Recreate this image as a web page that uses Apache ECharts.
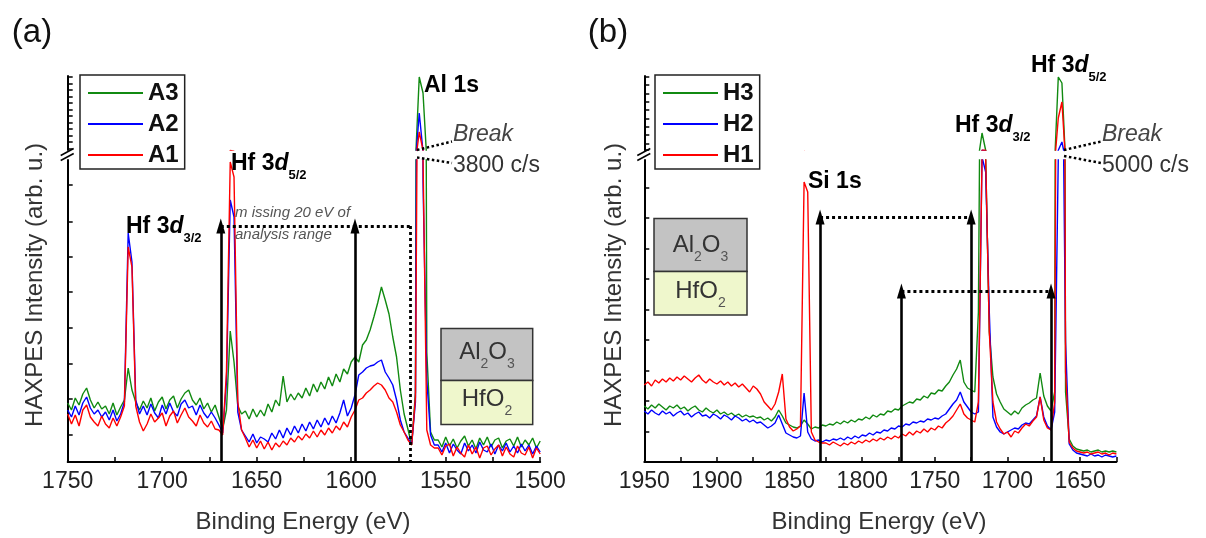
<!DOCTYPE html>
<html><head><meta charset="utf-8">
<script src="https://cdn.jsdelivr.net/npm/echarts@6/dist/echarts.min.js"></script>
<style>html,body{margin:0;padding:0;background:#fff;}#c{width:1206px;height:538px;}</style>
</head><body><div id="c"></div>
<script>
// ---------- DATA ----------
// Panel (a): binding energy grid 1750 -> 1500 eV, step 2 eV (arb. u.)
const A_START = 1750, A_STEP = 2;
const A3 = [590,520,640,570,680,740,620,540,600,530, 560,480,590,470,550, 620,940,720,600,
  520,610,540,640,510,600,650,530,620,660,540,630,690,720,620,570,640,530,590,500,570,
  450,330,520,1310,1000,560,480, 510,430,530,450,520,460,580,500, 620,560,860,600,680,620,
  690,640,740,660,780,700,800,730,850,760, 880,800,930,880,1000,
  1050,1000,1170,1220,1320,1450,1590,1750,1620,1480,1250,1050,720,480,330,170,
  700,17700,14500,1100,300,220,
  220,150,250,160,230,140,210,260,160,220,130,240,170,250,150,220,240,140,210,230,160,250,150,220,170,240,140,210];
const A2 = [520,450,560,470,590,650,540,480,520,450, 500,420,520,410,480, 600,2290,2000,620,
  480,560,470,580,490,440,570,480,590,500,460,580,620,540,560,470,570,490,440,500,440,
  370,290,800,2620,2450,500,320, 260,200,280,190,250,230,200,290, 230,320,240,340,270,360,
  290,380,310,400,330,420,350,440,370,460, 390,490,620,460,540,
  670,870,900,940,960,970,1000,1020,900,840,770,620,420,300,240,180,
  600,10500,2800,820,270,170,
  170,100,190,90,180,120,80,190,110,170,90,200,120,100,180,80,170,110,190,100,160,90,180,110,170,80,160,100];
const A1 = [480,380,470,360,520,570,450,400,360,460, 380,340,440,360,450, 560,2150,1950,560,
  400,310,380,480,400,440,490,360,460,510,390,470,540,450,410,360,470,390,350,410,330,
  320,270,900,3000,2850,600,320, 240,150,220,140,210,130,200,120, 190,150,210,170,240,200,
  260,220,280,240,310,250,320,270,340,290, 360,320,400,350,450,
  520,620,640,690,720,760,790,770,720,640,600,500,370,300,220,170,
  650,6700,3050,320,170,140,
  140,70,160,180,60,150,90,50,170,80,150,40,140,160,70,130,170,60,150,80,50,160,90,70,150,40,140,80];

// Panel (b): binding energy grid 1950 -> 1625 eV, step 2.5 eV (arb. u.)
const B_START = 1950, B_STEP = 2.5;
const H3 = [560,530,570,540,580,550,520,560,540,570,530,550,510,540,560,520,500,540,510,490,520,480,500,470,490,460,480,450,
  470,450,460,440,450,420,440,410,450,520,460,390,370,350,340,360,420,380,330,350,340,370,
  360,380,370,400,380,410,390,420,400,430,420,450,430,470,450,480,470,510,500,530,520,560,580,600,590,630,620,660,640,690,680,720,710,760,800,870,930,1020,800,740,720,700,1500,
  6500,3050,1300,850,
  680,600,530,500,470,510,480,540,570,590,620,640,890,660,560,510,700,
  17700,16500,700,
  230,160,130,120,110,120,100,110,120,100,110,100,110,100];
const H2 = [510,480,520,490,470,510,480,500,460,490,510,470,490,450,480,500,460,470,440,480,460,430,470,450,420,460,440,410,
  430,400,420,390,400,370,340,360,390,470,380,290,270,250,240,260,690,300,230,210,220,200,
  220,210,230,220,240,220,250,230,260,240,270,260,290,270,300,290,320,310,340,330,360,350,380,370,400,390,410,400,430,420,440,430,460,480,530,580,620,700,600,550,500,480,500,
  3050,2900,1500,450,
  350,300,280,300,320,340,330,370,390,380,420,460,650,450,360,320,500,
  3050,4700,1200,
  180,120,90,80,70,60,80,60,70,50,70,60,50,60];
const H1 = [770,800,760,820,790,830,800,840,810,850,820,860,830,800,840,870,820,790,830,800,780,810,770,800,760,790,750,780,
  740,700,760,730,680,600,560,520,580,700,880,430,350,310,330,360,2800,2700,300,220,200,190,
  190,170,200,180,160,190,170,200,180,210,190,220,200,230,210,240,220,250,230,260,240,280,260,300,270,310,290,330,300,340,320,360,340,390,420,460,520,580,480,440,420,400,600,
  3050,3050,1300,600,
  400,330,280,300,250,310,290,340,380,360,410,450,650,420,340,320,600,
  9500,12700,900,
  200,140,110,100,90,100,80,90,100,80,90,70,90,80];

// annotation arrows (eV) and levels (arb. u.)
const arrowsA = [1669, 1598];
const bracketA = [1669, 1569];
const levelA = 2360;
const arrowsB1 = [1829, 1725], levelB1 = 2450;
const arrowsB2 = [1773, 1670], levelB2 = 1710;

// axis ticks (unlabelled y ticks, arb. u.)
const yTicksLowA = [270, 630, 985, 1340, 1700, 2050, 2405, 2770];
const yTicksLowB = [0, 305, 610, 915, 1220, 1525, 1830, 2135, 2440, 2745];
const yTicksUpA = [3400, 4700, 6000, 7300, 8600, 9900, 11200, 12500, 13800, 15100, 16400, 17700];
const yTicksUpB = [3100, 4440, 6100, 7760, 9440, 11100, 12760, 14440, 16100, 17760];

// ---------- CHART ----------
const FONT = '"Liberation Sans", Arial, Helvetica, sans-serif';
const GREEN = '#118a11', BLUE = '#0000ff', RED = '#ff0000';
const LOW_MAX = 3020, UP_MIN = 3100, UP_MAX = 17900;

function pairs(start, step, vals) { return vals.map((v, i) => [start - step * i, v]); }

const grids = [
  {left: 67.7, top: 160, width: 472.5, height: 302},
  {left: 67.7, top: 76, width: 472.5, height: 74},
  {left: 644.3, top: 160, width: 472.1, height: 302},
  {left: 644.3, top: 76, width: 472.1, height: 74}
].map(g => Object.assign({containLabel: false, outerBoundsMode: 'none'}, g));

function xAxisLow(grid, min, max) {
  return {gridIndex: grid, type: 'value', min: min, max: max, inverse: true, interval: 25,
    axisLine: {show: true, onZero: false, lineStyle: {color: '#000', width: 2}},
    axisTick: {show: true, inside: true, length: 5, lineStyle: {color: '#000', width: 1.5}},
    axisLabel: {show: true, interval: 0, margin: 8, fontSize: 23, fontFamily: FONT, color: '#222',
      formatter: v => (v % 50 === 0 ? String(v) : '')},
    splitLine: {show: false}};
}
function xAxisUp(grid, min, max) {
  return {gridIndex: grid, type: 'value', min: min, max: max, inverse: true, show: false, splitLine: {show: false}};
}
function yAxis(grid, min, max, ticks) {
  return {gridIndex: grid, type: 'value', min: min, max: max,
    axisLine: {show: true, onZero: false, lineStyle: {color: '#000', width: 2}},
    axisTick: {show: true, inside: true, length: 5, customValues: ticks, lineStyle: {color: '#000', width: 1.5}},
    axisLabel: {show: false}, splitLine: {show: false}};
}

const series = [];
function addSpectrum(name, vals, start, step, color, lowIdx, upIdx) {
  const d = pairs(start, step, vals);
  [lowIdx, upIdx].forEach(ix => {
    series.push({type: 'line', name: name, xAxisIndex: ix, yAxisIndex: ix, data: d,
      symbol: 'none', showSymbol: false, clip: true, silent: true, animation: false,
      lineStyle: {color: color, width: 1.4}, itemStyle: {color: color}});
  });
}
addSpectrum('A3', A3, A_START, A_STEP, GREEN, 0, 1);
addSpectrum('A2', A2, A_START, A_STEP, BLUE, 0, 1);
addSpectrum('A1', A1, A_START, A_STEP, RED, 0, 1);
addSpectrum('H3', H3, B_START, B_STEP, GREEN, 2, 3);
addSpectrum('H2', H2, B_START, B_STEP, BLUE, 2, 3);
addSpectrum('H1', H1, B_START, B_STEP, RED, 2, 3);

const solid = {color: '#000', width: 2.6, type: 'solid'};
const dotted = {color: '#000', width: 2.8, type: [3, 3]};
function arrow(E, level) {
  return [{coord: [E, 0], symbol: 'none', lineStyle: solid}, {coord: [E, level], symbol: 'triangle', symbolSize: [9, 15]}];
}
function dline(x1, y1, x2, y2) {
  return [{coord: [x1, y1], symbol: 'none', lineStyle: dotted}, {coord: [x2, y2], symbol: 'none'}];
}
function markSeries(ix, data) {
  series.push({type: 'line', name: 'marks' + ix, xAxisIndex: ix, yAxisIndex: ix, data: [], z: 5, silent: true,
    markLine: {silent: true, animation: false, symbol: ['none', 'none'], label: {show: false},
      emphasis: {disabled: true}, lineStyle: solid, data: data}});
}
markSeries(0, [
  arrow(arrowsA[0], levelA), arrow(arrowsA[1], levelA),
  dline(bracketA[0], levelA, bracketA[1], levelA), dline(bracketA[1], levelA, bracketA[1], 0)
]);
markSeries(2, [
  arrow(arrowsB1[0], levelB1), arrow(arrowsB1[1], levelB1), dline(arrowsB1[0], levelB1, arrowsB1[1], levelB1),
  arrow(arrowsB2[0], levelB2), arrow(arrowsB2[1], levelB2), dline(arrowsB2[0], levelB2, arrowsB2[1], levelB2)
]);

function legend(left, names) {
  return {data: names.map(n => ({name: n, icon: 'rect'})), orient: 'vertical', left: left, top: 75,
    itemWidth: 55, itemHeight: 2, itemGap: 7,
    padding: [6, 6, 2, 8], borderColor: '#222', borderWidth: 1.5, backgroundColor: '#fff', selectedMode: false,
    textStyle: {fontSize: 24, fontWeight: 'bold', color: '#111', fontFamily: FONT, lineHeight: 24}};
}

// ---------- GRAPHIC ANNOTATIONS ----------
const G = [];
function text(x, y, s, font, fill, align, extra) {
  G.push(Object.assign({type: 'text', x: x, y: y, silent: true, z: 20,
    style: {text: s, font: font, fill: fill || '#000', textAlign: align || 'left', textVerticalAlign: 'middle'}}, extra || {}));
}
function richText(x, y, s, rich, align) {
  G.push({type: 'text', x: x, y: y, silent: true, z: 20,
    style: {text: s, rich: rich, textAlign: align || 'left', textVerticalAlign: 'middle'}});
}
function poly(points, style) {
  G.push({type: 'polyline', silent: true, z: 20, shape: {points: points}, style: Object.assign({fill: null, stroke: '#000', lineWidth: 2.5}, style)});
}
function rect(x, y, w, h, fill) {
  G.push({type: 'rect', silent: true, z: 15, shape: {x: x, y: y, width: w, height: h}, style: {fill: fill, stroke: '#333', lineWidth: 1.5}});
}
const hfRich = {
  n: {font: 'bold 23px ' + FONT, fill: '#000', lineHeight: 36, verticalAlign: 'middle'},
  i: {font: 'italic bold 23px ' + FONT, fill: '#000', lineHeight: 36, verticalAlign: 'middle'},
  s: {font: 'bold 13px ' + FONT, fill: '#000', lineHeight: 13, verticalAlign: 'bottom'}
};
const matRich = {
  m: {font: '24px ' + FONT, fill: '#333', lineHeight: 38, verticalAlign: 'middle'},
  s: {font: '14px ' + FONT, fill: '#555', lineHeight: 14, verticalAlign: 'bottom'}
};

// panel letters
text(32, 33, '(a)', '33px ' + FONT, '#111', 'center');
text(608, 33, '(b)', '33px ' + FONT, '#111', 'center');
// axis titles
text(303, 522, 'Binding Energy (eV)', '24px ' + FONT, '#333', 'center');
text(879, 522, 'Binding Energy (eV)', '24px ' + FONT, '#333', 'center');
text(35, 285, 'HAXPES Intensity (arb. u.)', '24px ' + FONT, '#333', 'center', {rotation: Math.PI / 2});
text(614, 285, 'HAXPES Intensity (arb. u.)', '24px ' + FONT, '#333', 'center', {rotation: Math.PI / 2});

// panel (a) peak labels
richText(126, 227, '{n|Hf 3}{i|d}{s|3/2}', hfRich);
richText(231, 164, '{n|Hf 3}{i|d}{s|5/2}', hfRich);
text(424, 86, 'Al 1s', 'bold 23px ' + FONT, '#000');
text(235, 213, 'm issing 20 eV of', 'italic 15px ' + FONT, '#555');
text(235, 235, 'analysis range', 'italic 15px ' + FONT, '#555');
text(453, 135, 'Break', 'italic 23px ' + FONT, '#444');
text(453, 166, '3800 c/s', '23px ' + FONT, '#333');
poly([[417, 150], [452, 141.5]], {lineDash: [2.5, 2.5]});
poly([[417, 157.5], [452, 163]], {lineDash: [2.5, 2.5]});
rect(441, 328.5, 91.7, 52, '#c3c3c3');
rect(441, 380.5, 91.7, 44, '#eff7cc');
richText(487, 352, '{m|Al}{s|2}{m|O}{s|3}', matRich, 'center');
richText(487, 399, '{m|HfO}{s|2}', matRich, 'center');

// panel (b) peak labels
text(808, 182, 'Si 1s', 'bold 23px ' + FONT, '#000');
richText(955, 126, '{n|Hf 3}{i|d}{s|3/2}', hfRich);
richText(1031, 66, '{n|Hf 3}{i|d}{s|5/2}', hfRich);
text(1102, 135, 'Break', 'italic 23px ' + FONT, '#444');
text(1102, 166, '5000 c/s', '23px ' + FONT, '#333');
poly([[1064, 150], [1101, 141.5]], {lineDash: [2.5, 2.5]});
poly([[1064, 156], [1101, 163]], {lineDash: [2.5, 2.5]});
rect(654, 218.5, 93, 53, '#c3c3c3');
rect(654, 271.5, 93, 43.5, '#eff7cc');
richText(700.5, 245, '{m|Al}{s|2}{m|O}{s|3}', matRich, 'center');
richText(700.5, 291, '{m|HfO}{s|2}', matRich, 'center');

// axis break marks
[67.7, 644.3].forEach(ax => {
  poly([[ax - 7, 155.5], [ax + 6, 148.5]], {lineWidth: 1.5});
  poly([[ax - 7, 160.5], [ax + 6, 153.5]], {lineWidth: 1.5});
});

const chart = echarts.init(document.getElementById('c'), null, {renderer: 'canvas', width: 1206, height: 538});
chart.setOption({
  animation: false,
  backgroundColor: '#fff',
  grid: grids,
  xAxis: [xAxisLow(0, 1500, 1750), xAxisUp(1, 1500, 1750), xAxisLow(2, 1625, 1950), xAxisUp(3, 1625, 1950)],
  yAxis: [yAxis(0, 0, LOW_MAX, yTicksLowA), yAxis(1, UP_MIN, UP_MAX, yTicksUpA),
          yAxis(2, 0, LOW_MAX, yTicksLowB), yAxis(3, UP_MIN, UP_MAX, yTicksUpB)],
  legend: [legend(80, ['A3', 'A2', 'A1']), legend(655, ['H3', 'H2', 'H1'])],
  tooltip: {show: false},
  series: series,
  graphic: {elements: G}
});
</script></body></html>
